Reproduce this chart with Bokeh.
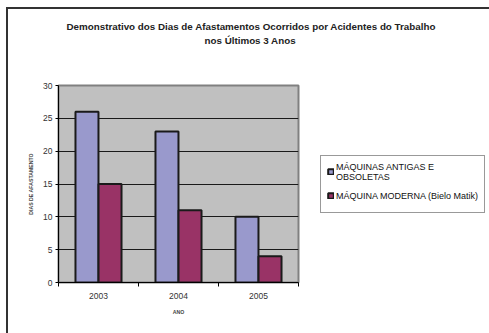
import numpy as np
from bokeh.plotting import figure
from bokeh.models import ColumnDataSource, FixedTicker, Range1d, Legend, LegendItem, Title
from bokeh.transform import dodge
from bokeh.embed import file_html
from bokeh.resources import INLINE

years = ["2003", "2004", "2005"]
antigas = [26, 23, 10]
moderna = [15, 11, 4]
series_names = ["MÁQUINAS ANTIGAS E\nOBSOLETAS", "MÁQUINA MODERNA (Bielo Matik)"]
y_ticks = [0, 5, 10, 15, 20, 25, 30]
title_lines = ["Demonstrativo dos Dias de Afastamentos Ocorridos por Acidentes do Trabalho",
               "nos Últimos 3 Anos"]

FONT = "Liberation Sans"
pos = [i + 0.5 for i in range(len(years))]
src = ColumnDataSource(dict(pos=pos, antigas=antigas, moderna=moderna))

p = figure(frame_width=240, frame_height=197, output_backend="svg", toolbar_location=None,
           x_range=Range1d(0, len(years)), y_range=Range1d(0, 30),
           min_border_left=58, min_border_right=191, min_border_top=85, min_border_bottom=51)
p.title = None
p.background_fill_color = "#C0C0C0"
p.border_fill_alpha = 0
p.outline_line_color = "#808080"
p.outline_line_width = 2
p.styles = {
    "background": "linear-gradient(#333,#333) 6px 7px / 2px 100% no-repeat, "
                  "linear-gradient(#333,#333) 6px 7px / 100% 2px no-repeat, white"
}

r1 = p.vbar(x=dodge("pos", -0.144), top="antigas", width=0.2875, source=src,
            fill_color="#9999CC", line_color="#1a1a1a", line_width=2)
r2 = p.vbar(x=dodge("pos", 0.144), top="moderna", width=0.2875, source=src,
            fill_color="#993366", line_color="#1a1a1a", line_width=2)

p.xgrid.visible = False
p.ygrid.ticker = FixedTicker(ticks=y_ticks)
p.ygrid.grid_line_color = "#1a1a1a"
p.ygrid.grid_line_width = 1

p.yaxis.ticker = FixedTicker(ticks=y_ticks)
p.yaxis.major_tick_out = 3
p.yaxis.major_tick_in = 0
p.yaxis.minor_tick_line_color = None
p.yaxis.axis_line_color = "black"
p.yaxis.major_label_text_font = FONT
p.yaxis.major_label_text_font_size = "8.5px"
p.yaxis.major_label_text_color = "#333333"
p.yaxis.major_label_standoff = 3
p.yaxis.axis_label = "DIAS DE AFASTAMENTO"
p.yaxis.axis_label_text_font = FONT
p.yaxis.axis_label_text_font_size = "5.2px"
p.yaxis.axis_label_text_font_style = "bold"
p.yaxis.axis_label_standoff = 6

p.xaxis.ticker = FixedTicker(ticks=pos, minor_ticks=list(range(len(years) + 1)))
p.xaxis.major_label_overrides = {pv: y for pv, y in zip(pos, years)}
p.xaxis.major_tick_out = 0
p.xaxis.major_tick_in = 0
p.xaxis.minor_tick_out = 4
p.xaxis.minor_tick_in = 0
p.xaxis.minor_tick_line_color = "black"
p.xaxis.axis_line_color = "black"
p.xaxis.major_label_text_font = FONT
p.xaxis.major_label_text_font_size = "8.5px"
p.xaxis.major_label_text_color = "#333333"
p.xaxis.major_label_standoff = 6
p.xaxis.axis_label = "ANO"
p.xaxis.axis_label_text_font = FONT
p.xaxis.axis_label_text_font_size = "5.2px"
p.xaxis.axis_label_text_font_style = "bold"
p.xaxis.axis_label_standoff = 7

legend = Legend(items=[LegendItem(label=series_names[0], renderers=[r1]),
                       LegendItem(label=series_names[1], renderers=[r2])],
                location="left", margin=22, glyph_width=7, glyph_height=7,
                label_text_font=FONT, label_text_font_size="9px",
                label_text_color="#111111", label_height=20,
                border_line_color="#333333", border_line_width=1,
                background_fill_alpha=1, padding=6, spacing=4, label_standoff=2)
p.add_layout(legend, "right")

# spacer (blank) keeps the two title lines high above the plot area
p.add_layout(Title(text=" ", standoff=26, text_font=FONT, text_font_size="9.8px"), "above")
p.add_layout(Title(text=title_lines[1], align="left", offset=146, standoff=2,
                   text_font=FONT, text_font_size="9.8px", text_font_style="bold",
                   text_color="#222222"), "above")
p.add_layout(Title(text=title_lines[0], align="left", offset=8, standoff=0,
                   text_font=FONT, text_font_size="9.8px", text_font_style="bold",
                   text_color="#222222"), "above")

open("out.html", "w").write(file_html(p, INLINE))
